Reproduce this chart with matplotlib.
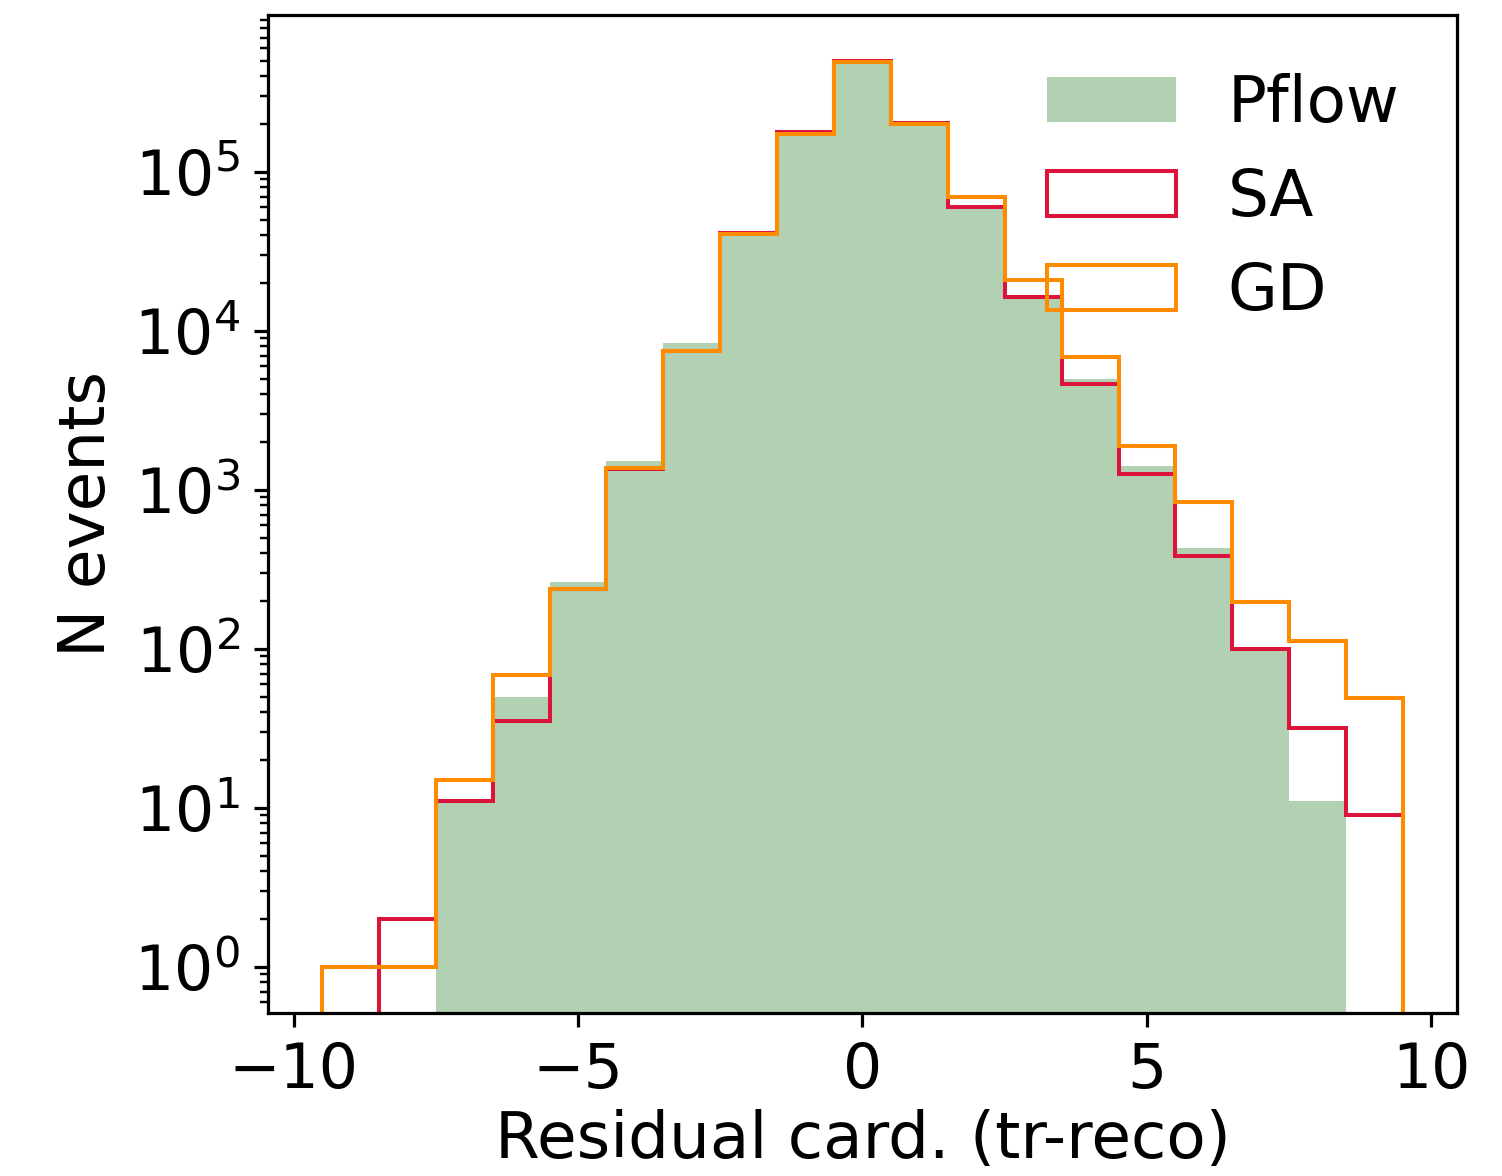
import numpy as np
import matplotlib
matplotlib.use("Agg")
import matplotlib.pyplot as plt

# bin centres (residual cardinality, integer) and counts
centers = [-9, -8, -7, -6, -5, -4, -3, -2, -1, 0, 1, 2, 3, 4, 5, 6, 7, 8, 9]
pflow = [0, 0, 11, 50, 265, 1520, 8450, 39700, 169000, 480000, 196000,
         59000, 16000, 5000, 1420, 432, 98, 11, 0]
sa = [0, 2, 11, 35, 240, 1350, 7500, 41500, 179000, 500000, 202000,
      60300, 16400, 4640, 1260, 385, 100, 32, 9]
gd = [1, 1, 15, 69, 240, 1370, 7500, 40600, 173000, 490000, 200000,
      70000, 21000, 6900, 1880, 840, 198, 112, 49]
labels = ["Pflow", "SA", "GD"]
xticks = [-10, -5, 0, 5, 10]

edges = np.arange(-9.5, 10.0, 1.0)

dpi = 290
fig = plt.figure(figsize=(1502 / dpi, 1176 / dpi), dpi=dpi)
ax = fig.add_axes([268 / 1502, 1 - 1013 / 1176, (1457 - 268) / 1502, (1013 - 15) / 1176])

ax.hist(centers, bins=edges, weights=pflow, histtype="stepfilled",
        color="darkgreen", alpha=0.3, label=labels[0], log=True)
ax.hist(centers, bins=edges, weights=sa, histtype="step",
        color="crimson", label=labels[1], log=True)
ax.hist(centers, bins=edges, weights=gd, histtype="step",
        color="darkorange", label=labels[2], log=True)

ax.set_yscale("log")
ax.set_ylim(0.514, 9.7e5)
ax.set_xlim(-10.45, 10.45)
ax.set_xticks(xticks)
ax.tick_params(labelsize=15.3)
ax.set_xlabel("Residual card. (tr-reco)", fontsize=16, labelpad=2)
ax.set_ylabel("N events", fontsize=16)
ax.legend(loc="upper right", frameon=False, fontsize=16)

fig.savefig("out.png", dpi=dpi)
